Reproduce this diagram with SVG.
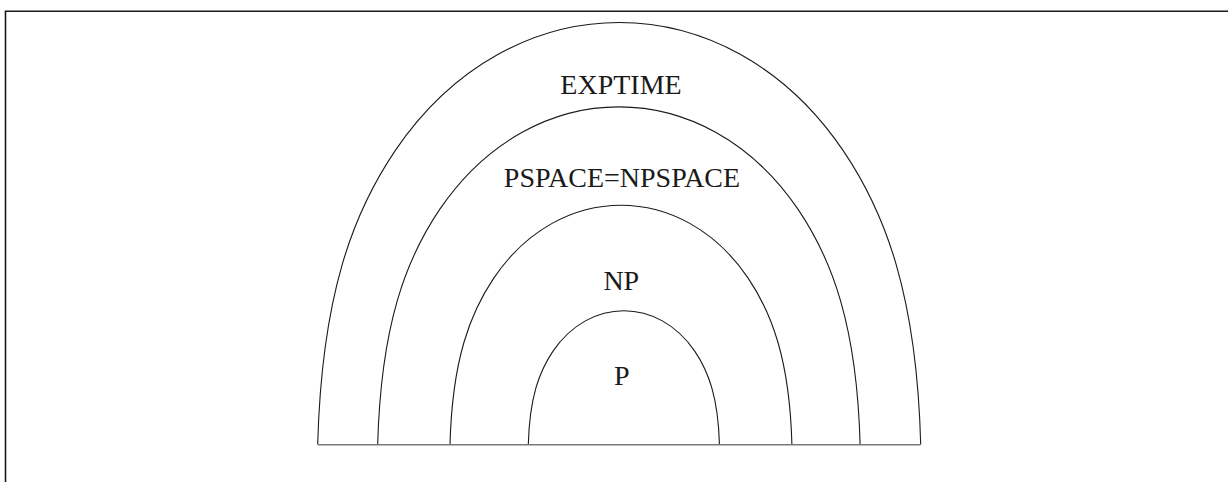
<svg xmlns="http://www.w3.org/2000/svg" width="1228" height="482" viewBox="0 0 1228 482">
<style>
.arc{fill:none;stroke:#1a1a1a;stroke-width:1.1;vector-effect:non-scaling-stroke}
.lbl{font-family:"Liberation Serif","Times New Roman",serif;font-size:28px;fill:#1a1a1a;text-anchor:middle}
.base{stroke:#7a7a7a;stroke-width:1.6;fill:none}
.frame{fill:none;stroke:#1a1a1a;stroke-width:1.6}
</style>
<rect width="1228" height="482" fill="#ffffff"/>
<path class="frame" d="M5.5,490 V11.3 H1240"/>
<g id="exptime">
<path class="arc" transform="translate(317.7,444.5)" d="M0,0 C4,-150 35.5,-231.8 77.5,-293.9 C193.3,-464.7 409.7,-464.7 525.5,-293.9 C567.5,-231.8 599,-150 603,0"/>
<text class="lbl" x="621" y="94">EXPTIME</text>
</g>
<g id="pspace">
<path class="arc" transform="translate(377.7,444.5) scale(0.8)" d="M0,0 C4,-150 35.5,-231.8 77.5,-293.9 C193.3,-464.7 409.7,-464.7 525.5,-293.9 C567.5,-231.8 599,-150 603,0"/>
<text class="lbl" x="622" y="187">PSPACE=NPSPACE</text>
</g>
<g id="np">
<path class="arc" transform="translate(450,444.5) scale(0.567)" d="M0,0 C4,-150 35.5,-231.8 77.5,-293.9 C193.3,-464.7 409.7,-464.7 525.5,-293.9 C567.5,-231.8 599,-150 603,0"/>
<text class="lbl" x="621.3" y="290">NP</text>
</g>
<g id="p">
<path class="arc" transform="translate(528.3,444.5) scale(0.317)" d="M0,0 C4,-150 35.5,-231.8 77.5,-293.9 C193.3,-464.7 409.7,-464.7 525.5,-293.9 C567.5,-231.8 599,-150 603,0"/>
<text class="lbl" x="621.8" y="385">P</text>
</g>
<g id="connectors">
<line class="base" x1="317.7" y1="444.7" x2="920.7" y2="444.7"/>
</g>
</svg>
